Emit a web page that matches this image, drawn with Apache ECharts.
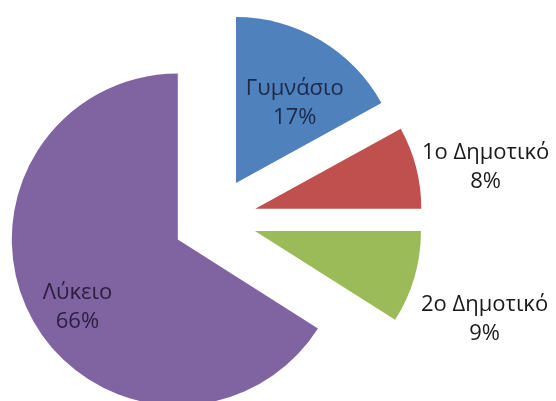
<!DOCTYPE html>
<html>
<head>
<meta charset="utf-8">
<script src="https://cdn.jsdelivr.net/npm/echarts@6/dist/echarts.min.js"></script>
<style>
  html, body { margin: 0; padding: 0; background: #fff; }
  #chart { width: 556px; height: 401px; }
</style>
</head>
<body>
<div id="chart"></div>
<script>
// School levels and their share (percent)
const categories = ['Γυμνάσιο', '1ο Δημοτικό', '2ο Δημοτικό', 'Λύκειο'];
const shares = [17, 8, 9, 66];

// Slice colours and label styling per slice
const sliceColors = ['#4F81BD', '#C0504D', '#9BBB59', '#8064A2'];
const labelColors = ['#1b2a4a', '#1a1a1a', '#1a1a1a', '#2b1d40'];
// Shifts of each label away from its default inside position
const labelShifts = [[15, -6], [147, -20], [147, 64], [-25, 26]];

const chart = echarts.init(document.getElementById('chart'), null, { renderer: 'canvas' });

const data = categories.map((name, i) => ({
  name: name,
  value: shares[i],
  selected: true,
  itemStyle: { color: sliceColors[i] },
  label: { color: labelColors[i] }
}));

chart.setOption({
  animation: false,
  backgroundColor: '#ffffff',
  series: [{
    type: 'pie',
    center: [214.6, 219.2],
    radius: 166,
    startAngle: 90,
    clockwise: true,
    selectedMode: 'multiple',
    selectedOffset: 42,
    avoidLabelOverlap: false,
    label: {
      show: true,
      position: 'inside',
      formatter: '{b}\n{c}%',
      fontFamily: 'Open Sans',
      fontSize: 22,
      lineHeight: 29,
      align: 'center'
    },
    labelLayout: function (params) {
      const s = labelShifts[params.dataIndex];
      return { dx: s[0], dy: s[1] };
    },
    labelLine: { show: false },
    emphasis: { disabled: true },
    data: data
  }]
});
</script>
</body>
</html>
